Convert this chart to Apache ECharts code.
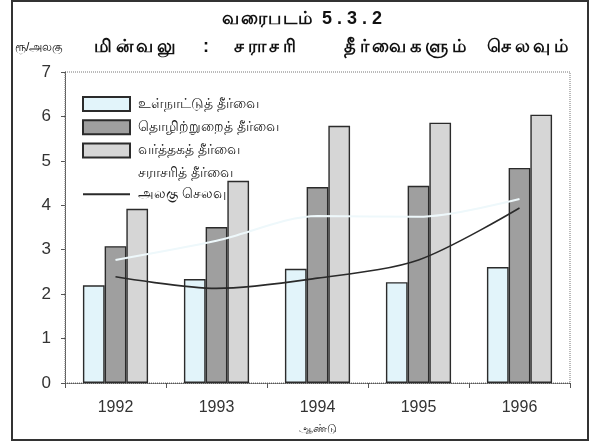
<!DOCTYPE html>
<html>
<head>
<meta charset="utf-8">
<script src="https://cdn.jsdelivr.net/npm/echarts@6/dist/echarts.min.js"></script>
<style>
  html, body { margin: 0; padding: 0; background: #fff; }
  #chart { width: 593px; height: 445px; }
</style>
</head>
<body>
<div id="chart"></div>
<script>
const years = ["1992", "1993", "1994", "1995", "1996"]
const domesticTax = [2.2, 2.34, 2.57, 2.27, 2.61]
const industrialTax = [3.08, 3.51, 4.41, 4.44, 4.84]
const commercialTax = [3.92, 4.55, 5.79, 5.86, 6.04]
const averageTax = [2.77, 3.2, 3.76, 3.74, 4.14]
const unitCost = [2.39, 2.13, 2.36, 2.77, 3.94]
const yTicks = [0, 1, 2, 3, 4, 5, 6, 7]

const seriesNames = [
  "உள்நாட்டுத் தீர்வை",
  "தொழிற்றுறைத் தீர்வை",
  "வர்த்தகத் தீர்வை",
  "சராசரித் தீர்வை",
  "அலகு செலவு",
]

const chart = echarts.init(document.getElementById("chart"))
const font = "'Liberation Sans', Arial, sans-serif"
const edge = "#2b2b2b"

const barStyle = (fill) => ({
  color: fill,
  borderColor: edge,
  borderWidth: 1.4,
})

// the printed heading is letter-spaced, so put a space between grapheme clusters
const spaced = (text, gap) => {
  if (typeof Intl === "undefined" || !Intl.Segmenter) return text
  const seg = new Intl.Segmenter("ta", { granularity: "grapheme" })
  return Array.from(seg.segment(text), (s) => s.segment).join(gap)
}

const headText = (text, x, y, size, bold, gap) => ({
  type: "text",
  x: x,
  y: y,
  style: {
    text: gap ? spaced(text, gap) : text,
    fontSize: size,
    fontWeight: bold ? "bold" : "normal",
    fill: "#111",
    verticalAlign: "middle",
  },
  silent: true,
})

const option = {
  animation: false,
  backgroundColor: "#fff",
  textStyle: { fontFamily: font },
  graphic: [
    {
      type: "rect",
      shape: { x: 12, y: 1, width: 576, height: 439 },
      style: { fill: null, stroke: "#333", lineWidth: 2 },
      silent: true,
    },
    {
      type: "rect",
      shape: { x: 65, y: 72, width: 505, height: 311 },
      style: { fill: null, stroke: "#777", lineWidth: 1, lineDash: [1, 1] },
      silent: true,
      z: 0,
    },
    headText("வரைபடம்", 222, 19, 18, true, "\u200a"),
    headText("5 . 3 . 2", 322, 19, 18, true),
    headText("ரூ/அலகு", 15, 48, 12, false),
    headText("மின்வலு", 94, 47, 18, true, "\u2009"),
    headText(":", 203, 47, 18, true),
    headText("சராசரி", 234, 47, 18, true, "\u2009"),
    headText("தீர்வைகளும்", 344, 47, 18, true, "\u2009"),
    headText("செலவும்", 487, 47, 18, true, "\u2009"),
  ],
  legend: {
    orient: "vertical",
    left: 77,
    top: 91,
    itemWidth: 47,
    itemHeight: 14,
    itemGap: 7.3,
    textStyle: { fontSize: 13.5, color: "#222", padding: [0, 0, 0, 3] },
    data: [
      { name: seriesNames[0], icon: "rect" },
      { name: seriesNames[1], icon: "rect" },
      { name: seriesNames[2], icon: "rect" },
      { name: seriesNames[3], itemStyle: { opacity: 0 }, lineStyle: { opacity: 0 } },
      { name: seriesNames[4], itemStyle: { opacity: 0 } },
    ],
  },
  grid: {
    left: 65,
    right: 23,
    top: 72,
    bottom: 62,
  },
  xAxis: {
    type: "category",
    data: years,
    name: "ஆண்டு",
    nameLocation: "middle",
    nameGap: 40,
    nameTextStyle: { fontSize: 11, color: "#222" },
    axisLine: { lineStyle: { color: "#555", type: "dotted" } },
    axisTick: { show: true, length: 5, lineStyle: { color: "#555" } },
    axisLabel: { fontSize: 16, color: "#333", margin: 17 },
  },
  yAxis: {
    type: "value",
    min: 0,
    max: 7,
    interval: 1,
    axisLine: { show: true, lineStyle: { color: "#555", type: "dotted" } },
    axisTick: { show: true, length: 4, lineStyle: { color: "#555" } },
    axisLabel: {
      fontSize: 17,
      color: "#333",
      margin: 14,
      formatter: (v) => (yTicks.includes(v) ? String(v) : ""),
    },
    splitLine: { show: false },
  },
  series: [
    {
      name: seriesNames[0],
      type: "bar",
      data: domesticTax,
      barWidth: "21.5%",
      barGap: "0%",
      itemStyle: barStyle("#e2f4fa"),
    },
    {
      name: seriesNames[1],
      type: "bar",
      data: industrialTax,
      barWidth: "21.5%",
      itemStyle: barStyle("#9f9f9f"),
    },
    {
      name: seriesNames[2],
      type: "bar",
      data: commercialTax,
      barWidth: "21.5%",
      itemStyle: barStyle("#d6d6d6"),
    },
    {
      name: seriesNames[3],
      type: "line",
      data: averageTax,
      smooth: 0.3,
      symbol: "none",
      lineStyle: { color: "#eef8fb", width: 2 },
      itemStyle: { color: "#ffffff" },
      z: 5,
    },
    {
      name: seriesNames[4],
      type: "line",
      data: unitCost,
      smooth: 0.3,
      symbol: "none",
      lineStyle: { color: "#2a2a2a", width: 1.6 },
      itemStyle: { color: "#2a2a2a" },
      z: 6,
    },
  ],
}

chart.setOption(option)
</script>
</body>
</html>
